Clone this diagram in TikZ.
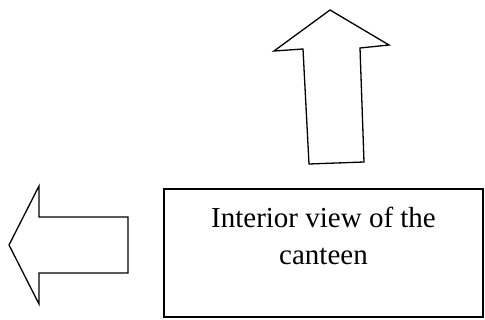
\documentclass[tikz,border=0pt]{standalone}
\usepackage{fontspec}
\setmainfont{Liberation Serif}
\begin{document}
\begin{tikzpicture}[x=1pt, y=-1pt, line width=1.3pt, line join=miter]
        \useasboundingbox (0, 0) rectangle (485, 320);

        % Up arrow
        \draw (330, 10) -- (389, 45) -- (360, 48) -- (364, 162)
            -- (309, 164) -- (303, 49) -- (274, 51) -- cycle;

        % Left arrow
        \draw (9, 245) -- (39, 186) -- (39, 217) -- (128, 217)
            -- (128, 273) -- (39, 273) -- (39, 304) -- cycle;

        % Box
        \draw (164, 189) rectangle (483, 317);
        \node[align=center, font=\fontsize{29}{37}\selectfont] (view) at (323.5, 236)
            {Interior view of the\\canteen};
    \end{tikzpicture}
\end{document}
